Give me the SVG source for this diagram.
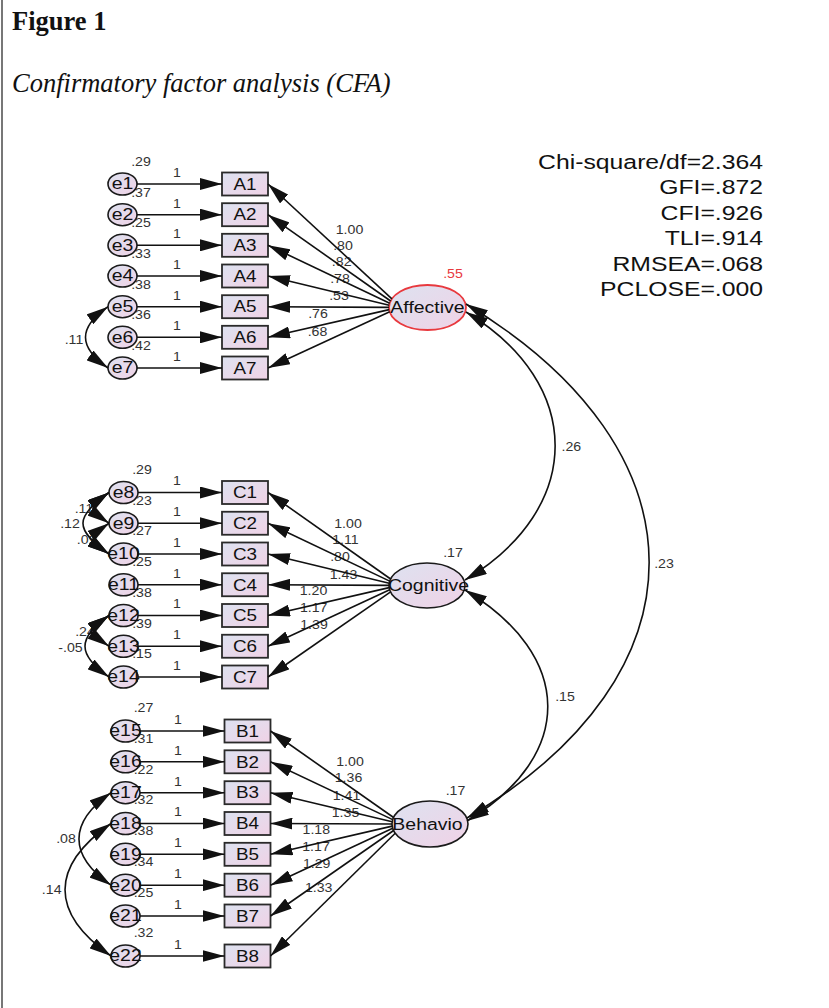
<svg xmlns="http://www.w3.org/2000/svg" width="829" height="1008" viewBox="0 0 829 1008">
<style>
text { font-family: "Liberation Sans", Arial, Helvetica, sans-serif; }
.s { transform-box: fill-box; transform-origin: 50% 50%; transform: scaleX(1.18); text-anchor: middle; }
.num { font-size: 12px; fill: #333; }
.red { fill: #e8393e; }
.bl { font-size: 16px; fill: #111; }
.el { font-size: 16.5px; fill: #111; }
.fl { font-size: 16.5px; fill: #111; }
.fit { font-size: 19.5px; fill: #111; text-anchor: end; transform-box: fill-box; transform-origin: 100% 50%; transform: scaleX(1.27); }
.box { fill: url(#g); stroke: #2a2a2a; stroke-width: 1.8; }
.ell { fill: url(#g); stroke: #1a1a1a; stroke-width: 1.6; }
.fac { fill: url(#g); stroke: #1a1a1a; stroke-width: 1.6; }
.facr { fill: url(#g); stroke: #e8393e; stroke-width: 1.8; }
.ln { fill: none; stroke: #111; stroke-width: 1.6; marker-end: url(#ah); }
.cv { fill: none; stroke: #111; stroke-width: 1.6; marker-start: url(#ah); marker-end: url(#ah); }
.title { font-family: "Liberation Serif", "Times New Roman", serif; font-weight: bold; font-size: 26.5px; fill: #111; }
.sub { font-family: "Liberation Serif", "Times New Roman", serif; font-style: italic; font-size: 26.5px; fill: #111; }
</style>
<defs>
<linearGradient id="g" x1="0" y1="0" x2="1" y2="1">
<stop offset="0" stop-color="#dde2f0"/>
<stop offset="1" stop-color="#f0d2e6"/>
</linearGradient>
<marker id="ah" markerUnits="userSpaceOnUse" markerWidth="22" markerHeight="12" viewBox="0 0 22 12" refX="22" refY="6" orient="auto-start-reverse">
<path d="M0,0 L22,6 L0,12 z" fill="#111"/>
</marker>
</defs>
<rect width="829" height="1008" fill="#fff"/>
<rect x="1" y="0" width="2" height="1008" fill="#777"/>
<text class="title" x="12" y="30">Figure 1</text>
<text class="sub" x="12" y="92">Confirmatory factor analysis (CFA)</text>

<g id="fit-indices">
<text class="fit" x="763" y="169">Chi-square/df=2.364</text>
<text class="fit" x="763" y="194.5">GFI=.872</text>
<text class="fit" x="763" y="220">CFI=.926</text>
<text class="fit" x="763" y="245.5">TLI=.914</text>
<text class="fit" x="763" y="271">RMSEA=.068</text>
<text class="fit" x="763" y="296.5">PCLOSE=.000</text>
</g>

<g id="labels">
<g class="num">
<text class="s" x="141" y="166">.29</text>
<text class="s" x="141" y="196.7">.37</text>
<text class="s" x="141" y="227.3">.25</text>
<text class="s" x="141" y="258">.33</text>
<text class="s" x="141" y="288.7">.38</text>
<text class="s" x="141" y="319.3">.36</text>
<text class="s" x="141" y="350">.42</text>
<text class="s" x="142" y="474">.29</text>
<text class="s" x="142" y="504.75">.23</text>
<text class="s" x="142" y="535.5">.27</text>
<text class="s" x="142" y="566.25">.25</text>
<text class="s" x="142" y="597">.38</text>
<text class="s" x="142" y="627.75">.39</text>
<text class="s" x="142" y="658.5">.15</text>
<text class="s" x="143.5" y="712">.27</text>
<text class="s" x="143.5" y="742.8">.31</text>
<text class="s" x="143.5" y="773.7">.22</text>
<text class="s" x="143.5" y="804.5">.32</text>
<text class="s" x="143.5" y="835.3">.38</text>
<text class="s" x="143.5" y="866.2">.34</text>
<text class="s" x="143.5" y="897">.25</text>
<text class="s" x="143.5" y="937">.32</text>
<text class="s" x="177" y="177">1</text>
<text class="s" x="177" y="207.7">1</text>
<text class="s" x="177" y="238.3">1</text>
<text class="s" x="177" y="269">1</text>
<text class="s" x="177" y="299.7">1</text>
<text class="s" x="177" y="330.3">1</text>
<text class="s" x="177" y="361">1</text>
<text class="s" x="177" y="485.5">1</text>
<text class="s" x="177" y="516.25">1</text>
<text class="s" x="177" y="547">1</text>
<text class="s" x="177" y="577.75">1</text>
<text class="s" x="177" y="608.5">1</text>
<text class="s" x="177" y="639.25">1</text>
<text class="s" x="177" y="670">1</text>
<text class="s" x="178" y="724">1</text>
<text class="s" x="178" y="754.8">1</text>
<text class="s" x="178" y="785.7">1</text>
<text class="s" x="178" y="816.5">1</text>
<text class="s" x="178" y="847.3">1</text>
<text class="s" x="178" y="878.2">1</text>
<text class="s" x="178" y="909">1</text>
<text class="s" x="178" y="949">1</text>
<text class="s" x="349.5" y="234">1.00</text>
<text class="s" x="343" y="250">.80</text>
<text class="s" x="341.7" y="265.7">.82</text>
<text class="s" x="340" y="282.7">.78</text>
<text class="s" x="339" y="300">.53</text>
<text class="s" x="318" y="318">.76</text>
<text class="s" x="317.5" y="335.7">.68</text>
<text class="s" x="348" y="527.7">1.00</text>
<text class="s" x="345.5" y="544">1.11</text>
<text class="s" x="340" y="560.7">.80</text>
<text class="s" x="343.5" y="579">1.43</text>
<text class="s" x="313.5" y="595">1.20</text>
<text class="s" x="313.7" y="612">1.17</text>
<text class="s" x="314" y="629">1.39</text>
<text class="s" x="350" y="766">1.00</text>
<text class="s" x="348.5" y="782">1.36</text>
<text class="s" x="346.5" y="800">1.41</text>
<text class="s" x="345.5" y="816.7">1.35</text>
<text class="s" x="316.3" y="834">1.18</text>
<text class="s" x="316" y="850.7">1.17</text>
<text class="s" x="316.7" y="868">1.29</text>
<text class="s" x="318.7" y="891.7">1.33</text>
<text class="s" x="571.3" y="450.7">.26</text>
<text class="s" x="664" y="568.3">.23</text>
<text class="s" x="565" y="701">.15</text>
<text class="s" x="74" y="344">.11</text>
<text class="s" x="84" y="513">.11</text>
<text class="s" x="70" y="528.3">.12</text>
<text class="s" x="86.7" y="544">.09</text>
<text class="s" x="85" y="636">.24</text>
<text class="s" x="70.5" y="652.3">-.05</text>
<text class="s" x="66" y="843.3">.08</text>
<text class="s" x="51.7" y="894">.14</text>
<text class="s red" x="453" y="278">.55</text>
<text class="s" x="453" y="557">.17</text>
<text class="s" x="455.5" y="795">.17</text>
</g>
</g>

<g id="nodes">
<g id="e1"><ellipse class="ell" cx="122.5" cy="184" rx="14.5" ry="11"/><text class="s el" x="122.5" y="189.5">e1</text></g>
<g id="e2"><ellipse class="ell" cx="122.5" cy="214.7" rx="14.5" ry="11"/><text class="s el" x="122.5" y="220.2">e2</text></g>
<g id="e3"><ellipse class="ell" cx="122.5" cy="245.3" rx="14.5" ry="11"/><text class="s el" x="122.5" y="250.8">e3</text></g>
<g id="e4"><ellipse class="ell" cx="122.5" cy="276" rx="14.5" ry="11"/><text class="s el" x="122.5" y="281.5">e4</text></g>
<g id="e5"><ellipse class="ell" cx="122.5" cy="306.7" rx="14.5" ry="11"/><text class="s el" x="122.5" y="312.2">e5</text></g>
<g id="e6"><ellipse class="ell" cx="122.5" cy="337.3" rx="14.5" ry="11"/><text class="s el" x="122.5" y="342.8">e6</text></g>
<g id="e7"><ellipse class="ell" cx="122.5" cy="368" rx="14.5" ry="11"/><text class="s el" x="122.5" y="373.5">e7</text></g>
<g id="e8"><ellipse class="ell" cx="123.5" cy="492.5" rx="14.5" ry="11"/><text class="s el" x="123.5" y="498">e8</text></g>
<g id="e9"><ellipse class="ell" cx="123.5" cy="523.25" rx="14.5" ry="11"/><text class="s el" x="123.5" y="528.75">e9</text></g>
<g id="e10"><ellipse class="ell" cx="123.5" cy="554" rx="14.5" ry="11"/><text class="s el" x="123.5" y="559.5">e10</text></g>
<g id="e11"><ellipse class="ell" cx="123.5" cy="584.75" rx="14.5" ry="11"/><text class="s el" x="123.5" y="590.25">e11</text></g>
<g id="e12"><ellipse class="ell" cx="123.5" cy="615.5" rx="14.5" ry="11"/><text class="s el" x="123.5" y="621">e12</text></g>
<g id="e13"><ellipse class="ell" cx="123.5" cy="646.25" rx="14.5" ry="11"/><text class="s el" x="123.5" y="651.75">e13</text></g>
<g id="e14"><ellipse class="ell" cx="123.5" cy="677" rx="14.5" ry="11"/><text class="s el" x="123.5" y="682.5">e14</text></g>
<g id="e15"><ellipse class="ell" cx="125.5" cy="731" rx="14.5" ry="11"/><text class="s el" x="125.5" y="736.5">e15</text></g>
<g id="e16"><ellipse class="ell" cx="125.5" cy="761.8" rx="14.5" ry="11"/><text class="s el" x="125.5" y="767.3">e16</text></g>
<g id="e17"><ellipse class="ell" cx="125.5" cy="792.7" rx="14.5" ry="11"/><text class="s el" x="125.5" y="798.2">e17</text></g>
<g id="e18"><ellipse class="ell" cx="125.5" cy="823.5" rx="14.5" ry="11"/><text class="s el" x="125.5" y="829">e18</text></g>
<g id="e19"><ellipse class="ell" cx="125.5" cy="854.3" rx="14.5" ry="11"/><text class="s el" x="125.5" y="859.8">e19</text></g>
<g id="e20"><ellipse class="ell" cx="125.5" cy="885.2" rx="14.5" ry="11"/><text class="s el" x="125.5" y="890.7">e20</text></g>
<g id="e21"><ellipse class="ell" cx="125.5" cy="916" rx="14.5" ry="11"/><text class="s el" x="125.5" y="921.5">e21</text></g>
<g id="e22"><ellipse class="ell" cx="125.5" cy="956" rx="14.5" ry="11"/><text class="s el" x="125.5" y="961.5">e22</text></g>

<g id="A1"><rect class="box" x="222" y="172.5" width="46" height="23"/><text class="s bl" x="245" y="189.8">A1</text></g>
<g id="A2"><rect class="box" x="222" y="203.2" width="46" height="23"/><text class="s bl" x="245" y="220.5">A2</text></g>
<g id="A3"><rect class="box" x="222" y="233.8" width="46" height="23"/><text class="s bl" x="245" y="251.1">A3</text></g>
<g id="A4"><rect class="box" x="222" y="264.5" width="46" height="23"/><text class="s bl" x="245" y="281.8">A4</text></g>
<g id="A5"><rect class="box" x="222" y="295.2" width="46" height="23"/><text class="s bl" x="245" y="312.5">A5</text></g>
<g id="A6"><rect class="box" x="222" y="325.8" width="46" height="23"/><text class="s bl" x="245" y="343.1">A6</text></g>
<g id="A7"><rect class="box" x="222" y="356.5" width="46" height="23"/><text class="s bl" x="245" y="373.8">A7</text></g>
<g id="C1"><rect class="box" x="222" y="481" width="46" height="23"/><text class="s bl" x="245" y="498.3">C1</text></g>
<g id="C2"><rect class="box" x="222" y="511.75" width="46" height="23"/><text class="s bl" x="245" y="529.05">C2</text></g>
<g id="C3"><rect class="box" x="222" y="542.5" width="46" height="23"/><text class="s bl" x="245" y="559.8">C3</text></g>
<g id="C4"><rect class="box" x="222" y="573.25" width="46" height="23"/><text class="s bl" x="245" y="590.55">C4</text></g>
<g id="C5"><rect class="box" x="222" y="604" width="46" height="23"/><text class="s bl" x="245" y="621.3">C5</text></g>
<g id="C6"><rect class="box" x="222" y="634.75" width="46" height="23"/><text class="s bl" x="245" y="652.05">C6</text></g>
<g id="C7"><rect class="box" x="222" y="665.5" width="46" height="23"/><text class="s bl" x="245" y="682.8">C7</text></g>
<g id="B1"><rect class="box" x="224.5" y="719.5" width="46" height="23"/><text class="s bl" x="247.5" y="736.8">B1</text></g>
<g id="B2"><rect class="box" x="224.5" y="750.3" width="46" height="23"/><text class="s bl" x="247.5" y="767.6">B2</text></g>
<g id="B3"><rect class="box" x="224.5" y="781.2" width="46" height="23"/><text class="s bl" x="247.5" y="798.5">B3</text></g>
<g id="B4"><rect class="box" x="224.5" y="812" width="46" height="23"/><text class="s bl" x="247.5" y="829.3">B4</text></g>
<g id="B5"><rect class="box" x="224.5" y="842.8" width="46" height="23"/><text class="s bl" x="247.5" y="860.1">B5</text></g>
<g id="B6"><rect class="box" x="224.5" y="873.7" width="46" height="23"/><text class="s bl" x="247.5" y="891">B6</text></g>
<g id="B7"><rect class="box" x="224.5" y="904.5" width="46" height="23"/><text class="s bl" x="247.5" y="921.8">B7</text></g>
<g id="B8"><rect class="box" x="224.5" y="944.5" width="46" height="23"/><text class="s bl" x="247.5" y="961.8">B8</text></g>

<g id="Affective"><ellipse class="facr" cx="427.5" cy="307.5" rx="38.5" ry="22.5"/><text class="s fl" x="427.5" y="313.5">Affective</text></g>
<g id="Cognitive"><ellipse class="fac" cx="427" cy="585.5" rx="38" ry="22.5"/><text class="s fl" x="428.5" y="591">Cognitive</text></g>
<g id="Behavior"><ellipse class="fac" cx="430" cy="824" rx="38" ry="23"/><text class="s fl" x="427.5" y="830">Behavio</text></g>
</g>

<g id="connectors">
<line class="ln" x1="137" y1="184" x2="222" y2="184"/>
<line class="ln" x1="137" y1="214.7" x2="222" y2="214.7"/>
<line class="ln" x1="137" y1="245.3" x2="222" y2="245.3"/>
<line class="ln" x1="137" y1="276" x2="222" y2="276"/>
<line class="ln" x1="137" y1="306.7" x2="222" y2="306.7"/>
<line class="ln" x1="137" y1="337.3" x2="222" y2="337.3"/>
<line class="ln" x1="137" y1="368" x2="222" y2="368"/>
<line class="ln" x1="138" y1="492.5" x2="222" y2="492.5"/>
<line class="ln" x1="138" y1="523.25" x2="222" y2="523.25"/>
<line class="ln" x1="138" y1="554" x2="222" y2="554"/>
<line class="ln" x1="138" y1="584.75" x2="222" y2="584.75"/>
<line class="ln" x1="138" y1="615.5" x2="222" y2="615.5"/>
<line class="ln" x1="138" y1="646.25" x2="222" y2="646.25"/>
<line class="ln" x1="138" y1="677" x2="222" y2="677"/>
<line class="ln" x1="140" y1="731" x2="224.5" y2="731"/>
<line class="ln" x1="140" y1="761.8" x2="224.5" y2="761.8"/>
<line class="ln" x1="140" y1="792.7" x2="224.5" y2="792.7"/>
<line class="ln" x1="140" y1="823.5" x2="224.5" y2="823.5"/>
<line class="ln" x1="140" y1="854.3" x2="224.5" y2="854.3"/>
<line class="ln" x1="140" y1="885.2" x2="224.5" y2="885.2"/>
<line class="ln" x1="140" y1="916" x2="224.5" y2="916"/>
<line class="ln" x1="140" y1="956" x2="224.5" y2="956"/>

<line class="ln" x1="391.9" y1="298.9" x2="268" y2="184"/>
<line class="ln" x1="390.6" y1="301" x2="268" y2="214.7"/>
<line class="ln" x1="389.7" y1="303.2" x2="268" y2="245.3"/>
<line class="ln" x1="389.2" y1="305.3" x2="268" y2="276"/>
<line class="ln" x1="389" y1="307.4" x2="268" y2="306.7"/>
<line class="ln" x1="389.2" y1="309.6" x2="268" y2="337.3"/>
<line class="ln" x1="389.7" y1="311.7" x2="268" y2="368"/>

<line class="ln" x1="390.6" y1="579" x2="268" y2="492.5"/>
<line class="ln" x1="389.7" y1="581.1" x2="268" y2="523.25"/>
<line class="ln" x1="389.2" y1="583.3" x2="268" y2="554"/>
<line class="ln" x1="389" y1="585.4" x2="268" y2="584.75"/>
<line class="ln" x1="389.2" y1="587.6" x2="268" y2="615.5"/>
<line class="ln" x1="389.7" y1="589.75" x2="268" y2="646.25"/>
<line class="ln" x1="390.6" y1="591.9" x2="268" y2="677"/>

<line class="ln" x1="393.6" y1="817.5" x2="270.5" y2="731"/>
<line class="ln" x1="392.7" y1="819.65" x2="270.5" y2="761.8"/>
<line class="ln" x1="392.2" y1="821.8" x2="270.5" y2="792.7"/>
<line class="ln" x1="392" y1="824" x2="270.5" y2="823.5"/>
<line class="ln" x1="392.2" y1="826.1" x2="270.5" y2="854.3"/>
<line class="ln" x1="392.7" y1="828.3" x2="270.5" y2="885.2"/>
<line class="ln" x1="393.6" y1="830.5" x2="270.5" y2="916"/>
<line class="ln" x1="395.2" y1="833.2" x2="270.5" y2="956"/>

<path class="cv" d="M108,306.7 C78,327.7 78,347 108,368"/>
<path class="cv" d="M109,492.5 C87.7,507.5 87.7,508.25 109,523.25"/>
<path class="cv" d="M109,523.25 C87.7,538.25 87.7,539 109,554"/>
<path class="cv" d="M109,492.5 C74.3,516.8 74.3,529.7 109,554"/>
<path class="cv" d="M109,615.5 C85,632.3 85,629.45 109,646.25"/>
<path class="cv" d="M109,615.5 C77,637.9 77,654.6 109,677"/>
<path class="cv" d="M111,792.7 C68.3,822.6 68.3,855.3 111,885.2"/>
<path class="cv" d="M111,823.5 C49.7,866.5 49.7,913 111,956"/>

<path class="cv" d="M466,312 C585,383.6 585,508.4 465,580"/>
<path class="cv" d="M466,304 C709,450 711,674 467,818"/>
<path class="cv" d="M465,590 C574,655.7 576,755.3 467,821"/>
</g>
</svg>
